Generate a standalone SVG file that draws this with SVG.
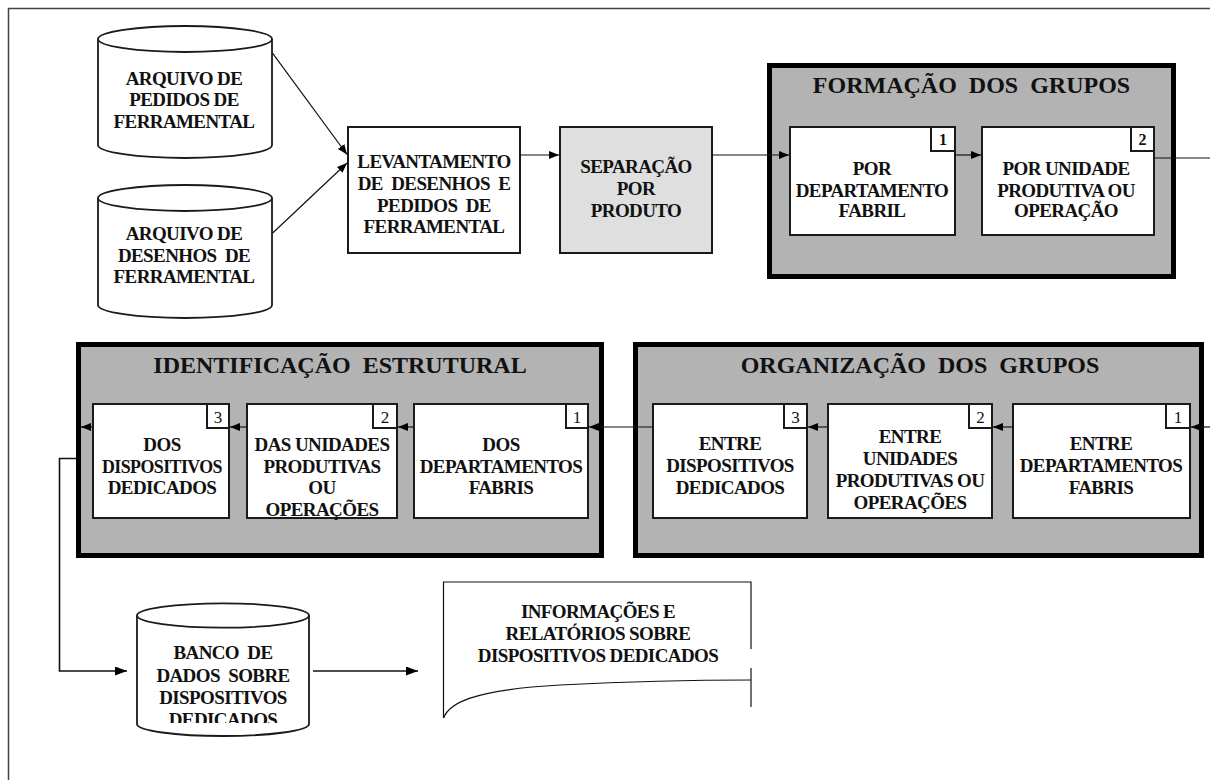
<svg xmlns="http://www.w3.org/2000/svg" width="1210" height="780" viewBox="0 0 1210 780">
<style>
text{font-family:"Liberation Serif","Times New Roman",serif;font-weight:bold;fill:#111;text-anchor:middle}
.t{font-size:19px;letter-spacing:-0.6px}
.h{font-size:24px}
.nb{font-size:16px}
.nr{font-size:17px;font-weight:normal}
.grp{fill:#b3b3b3;stroke:#000;stroke-width:5}
.box{fill:#fff;stroke:#1a1a1a;stroke-width:2}
.sep{fill:#dfdfdf;stroke:#1a1a1a;stroke-width:2}
.cyl{fill:#fff;stroke:#1a1a1a;stroke-width:1.8}
.ln{fill:none;stroke:#111;stroke-width:1.2}
.lnb{fill:none;stroke:#111;stroke-width:1.6}
.frame{fill:none;stroke:#444;stroke-width:1.5}
</style>
<defs>
<marker id="ah" viewBox="0 0 10 8" refX="10" refY="4" markerWidth="10" markerHeight="8" markerUnits="userSpaceOnUse" orient="auto"><path d="M0,0 L10,4 L0,8 z" fill="#000"/></marker>
<marker id="ahb" viewBox="0 0 12 9" refX="12" refY="4.5" markerWidth="12" markerHeight="9" markerUnits="userSpaceOnUse" orient="auto"><path d="M0,0 L12,4.5 L0,9 z" fill="#000"/></marker>
<clipPath id="bancoClip"><rect x="130" y="600" width="190" height="123"/></clipPath>
</defs>
<rect width="1210" height="780" fill="#fff"/>
<path class="frame" d="M8.5,780 V8.5 H1210"/>

<g id="arquivo-pedidos">
<path class="cyl" d="M98,39 V145 A87,13 0 0 0 272,145 V39"/>
<ellipse class="cyl" cx="185" cy="39" rx="87" ry="13"/>
<text class="t" x="184" y="85">ARQUIVO DE</text>
<text class="t" x="184" y="106">PEDIDOS DE</text>
<text class="t" x="184" y="127.5">FERRAMENTAL</text>
</g>

<g id="arquivo-desenhos">
<path class="cyl" d="M98,198 V305 A87,13 0 0 0 272,305 V198"/>
<ellipse class="cyl" cx="185" cy="198" rx="87" ry="13"/>
<text class="t" x="184" y="240">ARQUIVO DE</text>
<text class="t" x="184" y="261.5" xml:space="preserve">DESENHOS  DE</text>
<text class="t" x="184" y="283">FERRAMENTAL</text>
</g>

<g id="levantamento">
<rect class="box" x="348" y="127" width="172" height="126"/>
<text class="t" x="434" y="168">LEVANTAMENTO</text>
<text class="t" x="434" y="190" xml:space="preserve">DE  DESENHOS  E</text>
<text class="t" x="434" y="211.5" xml:space="preserve">PEDIDOS  DE</text>
<text class="t" x="434" y="233">FERRAMENTAL</text>
</g>

<g id="separacao">
<rect class="sep" x="560" y="127" width="152" height="126"/>
<text class="t" x="636" y="173">SEPARAÇÃO</text>
<text class="t" x="636" y="195">POR</text>
<text class="t" x="636" y="217">PRODUTO</text>
</g>

<g id="formacao">
<rect class="grp" x="769.5" y="65.5" width="404" height="211"/>
<text class="h" x="971.5" y="93" xml:space="preserve">FORMAÇÃO  DOS  GRUPOS</text>
</g>
<g id="form-1">
<rect class="box" x="790" y="127" width="165" height="108"/>
<rect class="box" x="931" y="127" width="24" height="24"/>
<text class="nb" x="943" y="145">1</text>
<text class="t" x="872" y="175">POR</text>
<text class="t" x="872" y="196.5">DEPARTAMENTO</text>
<text class="t" x="872" y="217">FABRIL</text>
</g>
<g id="form-2">
<rect class="box" x="982" y="127" width="172" height="108"/>
<rect class="box" x="1131" y="127" width="23" height="24"/>
<text class="nb" x="1142.5" y="145">2</text>
<text class="t" x="1066" y="175">POR UNIDADE</text>
<text class="t" x="1066" y="196.5">PRODUTIVA OU</text>
<text class="t" x="1066" y="217">OPERAÇÃO</text>
</g>

<g id="identificacao">
<rect class="grp" x="78.5" y="344.5" width="523" height="211"/>
<text class="h" x="340" y="373" xml:space="preserve">IDENTIFICAÇÃO  ESTRUTURAL</text>
</g>
<g id="ident-3">
<rect class="box" x="93" y="404" width="136" height="114"/>
<rect class="box" x="207" y="404" width="22" height="24"/>
<text class="nr" x="218" y="423">3</text>
<text class="t" x="162" y="451">DOS</text>
<text class="t" x="162" y="472.5" textLength="120" lengthAdjust="spacingAndGlyphs">DISPOSITIVOS</text>
<text class="t" x="162" y="494">DEDICADOS</text>
</g>
<g id="ident-2">
<rect class="box" x="247" y="404" width="150" height="114"/>
<rect class="box" x="373" y="404" width="24" height="24"/>
<text class="nr" x="385" y="423">2</text>
<text class="t" x="322" y="451">DAS UNIDADES</text>
<text class="t" x="322" y="472.5">PRODUTIVAS</text>
<text class="t" x="322" y="494">OU</text>
<text class="t" x="322" y="515.5">OPERAÇÕES</text>
</g>
<g id="ident-1">
<rect class="box" x="414" y="404" width="174" height="114"/>
<rect class="box" x="566" y="404" width="22" height="24"/>
<text class="nr" x="577" y="423">1</text>
<text class="t" x="501" y="451">DOS</text>
<text class="t" x="501" y="472.5">DEPARTAMENTOS</text>
<text class="t" x="501" y="494">FABRIS</text>
</g>

<g id="organizacao">
<rect class="grp" x="635.5" y="344.5" width="566" height="211"/>
<text class="h" x="920" y="373" xml:space="preserve">ORGANIZAÇÃO  DOS  GRUPOS</text>
</g>
<g id="org-3">
<rect class="box" x="653" y="404" width="154" height="114"/>
<rect class="box" x="784" y="404" width="23" height="24"/>
<text class="nr" x="795.5" y="423">3</text>
<text class="t" x="730" y="450">ENTRE</text>
<text class="t" x="730" y="472">DISPOSITIVOS</text>
<text class="t" x="730" y="493.5">DEDICADOS</text>
</g>
<g id="org-2">
<rect class="box" x="828" y="404" width="164" height="114"/>
<rect class="box" x="969" y="404" width="23" height="24"/>
<text class="nr" x="980.5" y="423">2</text>
<text class="t" x="910" y="443">ENTRE</text>
<text class="t" x="910" y="465">UNIDADES</text>
<text class="t" x="910" y="487">PRODUTIVAS OU</text>
<text class="t" x="910" y="509">OPERAÇÕES</text>
</g>
<g id="org-1">
<rect class="box" x="1013" y="404" width="177" height="114"/>
<rect class="box" x="1166" y="404" width="24" height="24"/>
<text class="nr" x="1178" y="423">1</text>
<text class="t" x="1101" y="450">ENTRE</text>
<text class="t" x="1101" y="472">DEPARTAMENTOS</text>
<text class="t" x="1101" y="493.5">FABRIS</text>
</g>

<g id="banco">
<path class="cyl" d="M137,615.5 V724 A86,12 0 0 0 309,724 V615.5"/>
<ellipse class="cyl" cx="223" cy="615.5" rx="86" ry="12.2"/>
<g clip-path="url(#bancoClip)">
<text class="t" x="223" y="659" xml:space="preserve">BANCO  DE</text>
<text class="t" x="223" y="681.5" xml:space="preserve">DADOS  SOBRE</text>
<text class="t" x="223" y="703.5">DISPOSITIVOS</text>
<text class="t" x="223" y="725.5">DEDICADOS</text>
</g>
</g>

<g id="informacoes">
<path class="ln" d="M443.5,718 V582 H751 V649"/>
<path class="ln" d="M751,668 V707"/>
<path class="ln" d="M443.5,718 C449,704 470,690 560,685 C640,681 700,680 751,680"/>
<text class="t" x="598" y="618">INFORMAÇÕES E</text>
<text class="t" x="598" y="640">RELATÓRIOS SOBRE</text>
<text class="t" x="598" y="661.5">DISPOSITIVOS DEDICADOS</text>
</g>

<g id="connectors">
<line class="ln" x1="272.7" y1="53.3" x2="347" y2="154.5" marker-end="url(#ah)"/>
<line class="ln" x1="272.7" y1="233" x2="347" y2="163" marker-end="url(#ah)"/>
<line class="ln" x1="521" y1="155" x2="559" y2="155" marker-end="url(#ah)"/>
<line class="ln" x1="713" y1="155" x2="789" y2="155" marker-end="url(#ah)"/>
<line class="ln" x1="956" y1="155" x2="981" y2="155" marker-end="url(#ah)"/>
<line class="ln" x1="1155" y1="158" x2="1210" y2="158"/>
<line class="ln" x1="1210" y1="427" x2="1191" y2="427" marker-end="url(#ah)"/>
<line class="ln" x1="1012" y1="427" x2="993" y2="427" marker-end="url(#ah)"/>
<line class="ln" x1="827" y1="427" x2="808" y2="427" marker-end="url(#ah)"/>
<line class="ln" x1="652" y1="427" x2="589" y2="427" marker-end="url(#ah)"/>
<line class="ln" x1="413" y1="427" x2="398" y2="427" marker-end="url(#ah)"/>
<line class="ln" x1="246" y1="427" x2="230" y2="427" marker-end="url(#ah)"/>
<line class="ln" x1="92" y1="427" x2="81" y2="427" marker-end="url(#ah)"/>
<polyline class="lnb" points="76,458.5 59.5,458.5 59.5,671 127,671" marker-end="url(#ahb)"/>
<line class="lnb" x1="313" y1="671" x2="418" y2="671" marker-end="url(#ahb)"/>
</g>
</svg>
